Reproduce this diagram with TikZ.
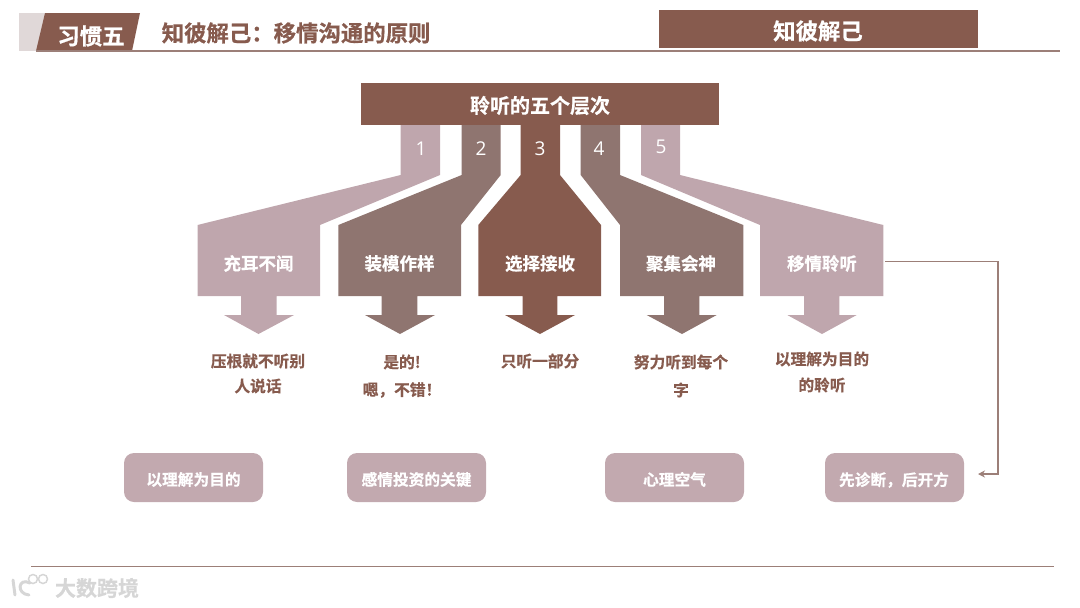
\documentclass[tikz,border=0pt]{standalone}
\usepackage{fontspec}
\setmainfont{Noto Sans CJK SC}[BoldFont={Noto Sans CJK SC Bold},BoldFeatures={FakeBold=0.6}]
\newfontfamily\numfont{Open Sans}
\usetikzlibrary{arrows.meta}
\definecolor{cdark}{HTML}{875B4E}
\definecolor{cmid}{HTML}{8F7570}
\definecolor{clight}{HTML}{BFA6AD}
\definecolor{cbox}{HTML}{C2A9AF}
\definecolor{cgrey}{HTML}{E0D8D8}
\definecolor{cline}{HTML}{9C7F78}
\definecolor{cmark}{HTML}{D6D6D6}
\tikzset{
  lbl/.style={text=white,font=\bfseries\fontsize{17.5}{19}\selectfont,inner sep=0pt},
  num/.style={text=white,font=\numfont\fontsize{19}{21}\selectfont,inner sep=0pt},
  desc/.style={text=cdark,font=\bfseries\fontsize{15.7}{17}\selectfont,inner sep=0pt},
  tagbox/.style={fill=cbox,rounded corners=10pt,minimum width=139pt,minimum height=49pt,inner sep=0pt},
  tagtext/.style={inner sep=0pt,text=white,font=\bfseries\fontsize{15.7}{17}\selectfont},
  head/.style={inner sep=0pt,font=\bfseries\fontsize{22.4}{24}\selectfont},
  rule/.style={draw=cline,line width=1.3pt},
}
\begin{document}
\begin{tikzpicture}[x=1pt,y=-1pt]
\useasboundingbox (0,0) rectangle (1080,608);
% header
\fill[cgrey] (19,13) rectangle (46,51);
\fill[cdark] (45,13) -- (140,13) -- (132,51) -- (36,51) -- cycle;
\draw[rule] (36,51) -- (1060,51);
\node[head,text=white] (habit) at (91,36) {习惯五};
\node[head,text=cdark,anchor=west] (title) at (161.5,33) {知彼解己：移情沟通的原则};
\node[fill=cdark,minimum width=319pt,minimum height=38pt,inner sep=0pt] (topright) at (818.5,29) {};
\node[head,text=white] (toprighttext) at (818,31) {知彼解己};
% five branches
\fill[clight] (400.7,125) -- (440,125) -- (440,175) -- (320,225) -- (320,296) -- (276.7,296) -- (276.7,315) -- (294,315) -- (258.5,334) -- (224,315) -- (241,315) -- (241,296) -- (197.5,296) -- (197.5,225) -- (400.7,175) -- cycle;
\fill[cmid] (461.7,125) -- (500.7,125) -- (500.7,175) -- (461,225) -- (461,296) -- (417.3,296) -- (417.3,315) -- (435,315) -- (400,334) -- (365,315) -- (381.7,315) -- (381.7,296) -- (338.4,296) -- (338.4,225) -- (461.7,175) -- cycle;
\fill[cdark] (520.7,125) -- (560,125) -- (560,175) -- (601,225) -- (601,296) -- (557.3,296) -- (557.3,315) -- (575,315) -- (540,334) -- (505,315) -- (522.7,315) -- (522.7,296) -- (478.3,296) -- (478.3,225) -- (520.7,175) -- cycle;
\fill[cmid] (580.7,125) -- (620,125) -- (620,175) -- (743.3,225) -- (743.3,296) -- (699.3,296) -- (699.3,315) -- (716.7,315) -- (682,334) -- (646.7,315) -- (664,315) -- (664,296) -- (620,296) -- (620,225) -- (580.7,175) -- cycle;
\fill[clight] (641,125) -- (680,125) -- (680,175) -- (883.3,225) -- (883.3,296) -- (839.3,296) -- (839.3,315) -- (856.7,315) -- (822,334) -- (787.3,315) -- (804,315) -- (804,296) -- (760,296) -- (760,225) -- (641,175) -- cycle;
% top bar
\node[fill=cdark,minimum width=358pt,minimum height=42pt,inner sep=0pt] (bar) at (540,104) {};
\node[inner sep=0pt,text=white,font=\bfseries\fontsize{20}{22}\selectfont] (bartext) at (540,105.5) {聆听的五个层次};
% numbers
\node[num] (n1) at (421,149) {1};
\node[num] (n2) at (481,149) {2};
\node[num] (n3) at (540,149) {3};
\node[num] (n4) at (599,149) {4};
\node[num] (n5) at (661,147) {5};
% labels
\node[lbl] (l1) at (258.5,263.5) {充耳不闻};
\node[lbl] (l2) at (399.5,263.5) {装模作样};
\node[lbl] (l3) at (540,263.5) {选择接收};
\node[lbl] (l4) at (681,263.5) {聚集会神};
\node[lbl] (l5) at (822,263.5) {移情聆听};
% descriptions
\node[desc] (d1a) at (258,361) {压根就不听别};
\node[desc] (d1b) at (258,386) {人说话};
\node[desc] (d2a) at (402,362) {是的!};
\node[desc] (d2b) at (402,390) {嗯，不错！};
\node[desc] (d3) at (540,361) {只听一部分};
\node[desc] (d4a) at (681,362) {努力听到每个};
\node[desc] (d4b) at (681,390) {字};
\node[desc] (d5a) at (822,359) {以理解为目的};
\node[desc] (d5b) at (822,385) {的聆听};
% tag boxes
\node[tagbox] (b1) at (193.5,477.5) {};
\node[tagbox] (b2) at (416.5,477.5) {};
\node[tagbox] (b3) at (674.5,477.5) {};
\node[tagbox] (b4) at (894.5,477.5) {};
\node[tagtext] (t1) at (193.5,479.5) {以理解为目的};
\node[tagtext] (t2) at (416.5,479.5) {感情投资的关键};
\node[tagtext] (t3) at (674.5,479.5) {心理空气};
\node[tagtext] (t4) at (894,480) {先诊断，后开方};
% connector
\coordinate (from5) at (885,261.5);
\coordinate (to4) at (978,474);
\draw[draw=cline,line width=1.7pt,-{Stealth[length=7pt,width=7pt]}] (from5) -- (998,261.5) |- (to4);
% bottom rule and mark
\draw[draw=cline,line width=1pt] (31,566) -- (1054,566);
\node[inner sep=0pt,text=cmark,font=\bfseries\fontsize{21}{23}\selectfont] (mark) at (97,588) {大数跨境};
\draw[cmark,line width=3pt,line cap=round] (13,580) -- (15,595);
\draw[cmark,line width=3pt,line cap=round] (30,583) .. controls (18,577) and (16,594) .. (29,595);
\draw[cmark,line width=1.5pt] (33,579) circle (4.5);
\draw[cmark,line width=1.5pt] (43,579) circle (4.5);
\end{tikzpicture}
\end{document}
